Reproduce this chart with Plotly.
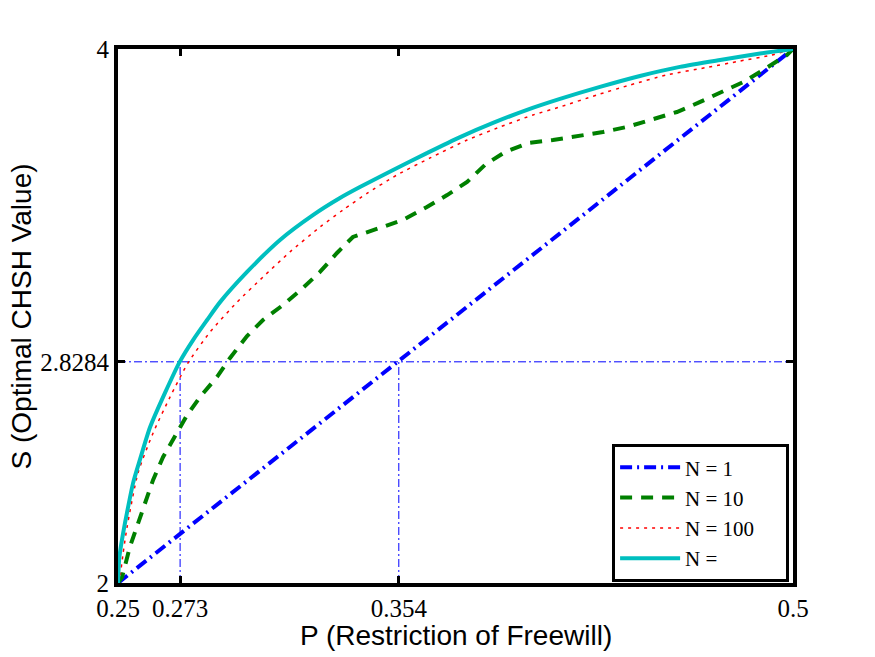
import plotly.graph_objects as go

# ---- data ----
p_n1 = [0.25, 0.5]
s_n1 = [2.0, 4.0]

p_n10 = [0.25, 0.2515, 0.2544, 0.2589, 0.2630, 0.2667, 0.2711, 0.2756, 0.2804, 0.2867,
         0.2915, 0.2978, 0.3037, 0.3111, 0.3185, 0.3248, 0.3311, 0.3370, 0.3470, 0.3556,
         0.3644, 0.3719, 0.3793, 0.3859, 0.3933, 0.4019, 0.4111, 0.4296, 0.4385, 0.4470,
         0.4570, 0.4648, 0.4730, 0.4815, 0.4889, 0.4978, 0.5]
s_n10 = [2.0, 2.022, 2.135, 2.262, 2.386, 2.472, 2.547, 2.629, 2.697, 2.772,
         2.843, 2.925, 2.985, 3.041, 3.105, 3.165, 3.236, 3.296, 3.330, 3.360,
         3.408, 3.453, 3.502, 3.566, 3.614, 3.648, 3.659, 3.689, 3.708, 3.734,
         3.764, 3.798, 3.835, 3.876, 3.921, 3.978, 4.0]

p_n100 = [0.25, 0.2507, 0.2519, 0.2533, 0.2574, 0.2630, 0.2693, 0.2759, 0.2841, 0.2941,
          0.3037, 0.3137, 0.3248, 0.3333, 0.3422, 0.3533, 0.3656, 0.3793, 0.3915, 0.4037,
          0.4137, 0.4274, 0.4396, 0.4533, 0.4681, 0.4804, 0.4915, 0.5]
s_n100 = [2.0, 2.022, 2.112, 2.206, 2.412, 2.562, 2.697, 2.824, 2.940, 3.052,
          3.146, 3.240, 3.333, 3.397, 3.459, 3.528, 3.592, 3.659, 3.708, 3.753,
          3.783, 3.828, 3.865, 3.903, 3.931, 3.955, 3.976, 4.0]

p_inf = [0.25, 0.2504, 0.2507, 0.2519, 0.2533, 0.2556, 0.2581, 0.2619, 0.2674, 0.2730,
         0.2778, 0.2830, 0.2878, 0.2978, 0.3100, 0.3222, 0.3322, 0.3396, 0.3519, 0.3644,
         0.3767, 0.3889, 0.4015, 0.4137, 0.4285, 0.4433, 0.4581, 0.4730, 0.4878, 0.5]
s_inf = [2.0, 2.086, 2.112, 2.187, 2.262, 2.375, 2.461, 2.584, 2.712, 2.831,
         2.910, 2.985, 3.052, 3.165, 3.285, 3.378, 3.442, 3.483, 3.547, 3.610,
         3.670, 3.723, 3.772, 3.813, 3.858, 3.899, 3.933, 3.959, 3.983, 4.0]

s_ref = 2.8284
p_ref_inf = 0.273
p_ref_one = 0.354
x_range = [0.25, 0.5]
y_range = [2.0, 4.0]

x_ticks = [0.25, 0.273, 0.354, 0.5]
x_ticklabels = ["0.25", "0.273", "0.354", "0.5"]
y_ticks = [2, 2.8284, 4]
y_ticklabels = ["2", "2.8284", "4"]

names = ["N = 1", "N = 10", "N = 100\u00a0\u00a0\u00a0\u00a0\u00a0", "N = "]

# ---- figure ----
fig = go.Figure()

ref_line = dict(color="#0000FF", width=1, dash="8px,3px,2px,3px")
fig.add_trace(go.Scatter(x=x_range, y=[s_ref, s_ref], mode="lines", line=ref_line,
                         showlegend=False, hoverinfo="skip"))
fig.add_trace(go.Scatter(x=[p_ref_inf, p_ref_inf], y=[y_range[0], s_ref], mode="lines",
                         line=ref_line, showlegend=False, hoverinfo="skip"))
fig.add_trace(go.Scatter(x=[p_ref_one, p_ref_one], y=[y_range[0], s_ref], mode="lines",
                         line=ref_line, showlegend=False, hoverinfo="skip"))

fig.add_trace(go.Scatter(x=p_n1, y=s_n1, mode="lines", name=names[0],
                         line=dict(color="#0000FF", width=4, dash="12px,5px,2px,5px")))
fig.add_trace(go.Scatter(x=p_n10, y=s_n10, mode="lines", name=names[1],
                         line=dict(color="#008000", width=4, dash="12px,9px")))
fig.add_trace(go.Scatter(x=p_n100, y=s_n100, mode="lines", name=names[2],
                         line=dict(color="#FF0000", width=1.5, dash="3px,5px",
                                   shape="spline", smoothing=0.6)))
fig.add_trace(go.Scatter(x=p_inf, y=s_inf, mode="lines", name=names[3],
                         line=dict(color="#00BFBF", width=4, shape="spline",
                                   smoothing=0.7)))

tick_font = dict(family="Liberation Serif", size=25, color="black")
fig.update_xaxes(range=x_range, tickvals=x_ticks, ticktext=x_ticklabels,
                 showgrid=False, zeroline=False, showline=True, linewidth=4,
                 linecolor="black", mirror="allticks", ticks="inside", ticklen=7,
                 tickwidth=3, tickcolor="black", tickfont=tick_font)
fig.update_yaxes(range=y_range, tickvals=y_ticks, ticktext=y_ticklabels,
                 showgrid=False, zeroline=False, showline=True, linewidth=4,
                 linecolor="black", mirror="allticks", ticks="inside", ticklen=7,
                 tickwidth=3, tickcolor="black", tickfont=tick_font)

fig.update_layout(
    width=875, height=657,
    margin=dict(l=118, r=82, t=49, b=74),
    paper_bgcolor="white", plot_bgcolor="white",
    showlegend=True,
    legend=dict(x=0.732, y=0.26, xanchor="left", yanchor="top",
                bgcolor="white", bordercolor="black", borderwidth=3,
                font=dict(family="Liberation Serif", size=21, color="black"),
                itemwidth=60, tracegroupgap=0),
    annotations=[
        dict(text="P (Restriction of Freewill)", xref="paper", yref="paper",
             x=0.5, y=-0.098, xanchor="center", yanchor="middle", showarrow=False,
             font=dict(family="Liberation Sans", size=28, color="black")),
        dict(text="S (Optimal CHSH Value)", xref="paper", yref="paper",
             x=-0.143, y=0.5, xanchor="center", yanchor="middle", showarrow=False,
             textangle=-90,
             font=dict(family="Liberation Sans", size=28, color="black")),
    ],
)

fig.write_html("out.html")
